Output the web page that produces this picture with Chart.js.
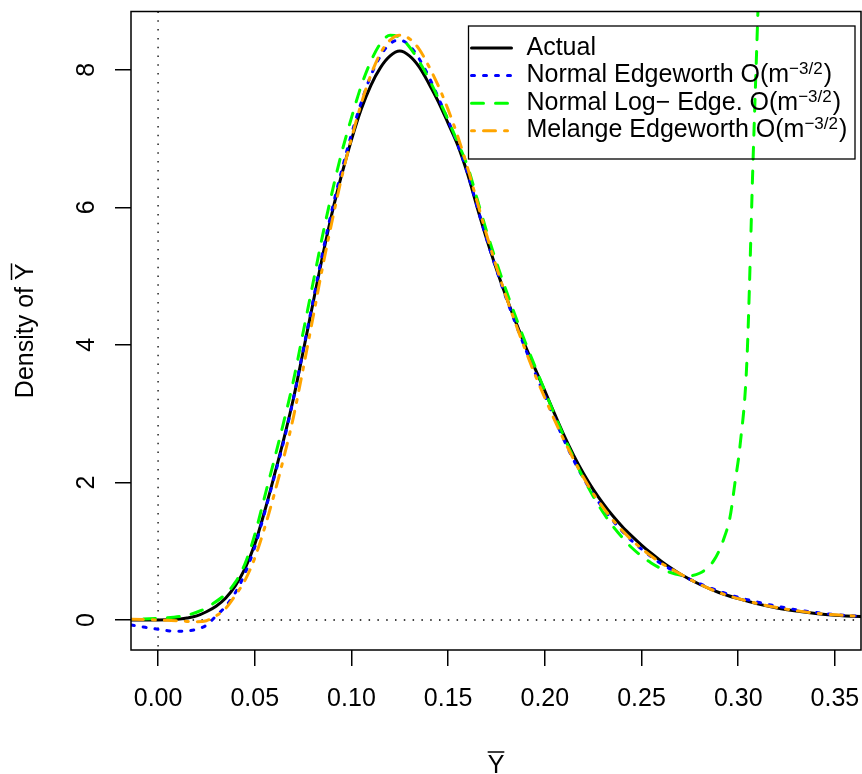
<!DOCTYPE html>
<html>
<head>
<meta charset="utf-8">
<script src="https://cdn.jsdelivr.net/npm/chart.js@4.4.0/dist/chart.umd.min.js"></script>
<style>
  body { margin: 0; background: #ffffff; }
  #chart-density { display: block; }
</style>
</head>
<body>
<canvas id="chart-density" width="862" height="774"></canvas>
<script>
// values ------------------------------------------------------
var xGrid = [-0.02, -0.014,
  0.000, 0.005, 0.010, 0.015, 0.020, 0.025, 0.030, 0.035, 0.040, 0.045,
  0.050, 0.055, 0.060, 0.065, 0.070, 0.075, 0.080, 0.085, 0.090, 0.095,
  0.100, 0.105, 0.110, 0.115, 0.120, 0.125, 0.130, 0.135, 0.140, 0.145,
  0.150, 0.155, 0.160, 0.165, 0.170, 0.175, 0.180, 0.185, 0.190, 0.195,
  0.200, 0.205, 0.210, 0.215, 0.220, 0.225, 0.230, 0.235, 0.240, 0.245,
  0.250, 0.255, 0.260, 0.265, 0.270,
  0.28, 0.29, 0.30, 0.31, 0.32, 0.33, 0.34, 0.35, 0.37]

var actualY = [0, 0,
  0.000, 0.002, 0.010, 0.030, 0.060, 0.120, 0.200, 0.320, 0.500, 0.750,
  1.10, 1.57, 2.09, 2.63, 3.22, 3.90, 4.59, 5.28, 5.92, 6.48,
  6.98, 7.42, 7.77, 8.03, 8.20, 8.27, 8.20, 8.04, 7.80, 7.53,
  7.22, 6.90, 6.49, 6.00, 5.53, 5.10, 4.70, 4.33, 3.98, 3.65,
  3.33, 3.00, 2.68, 2.39, 2.13, 1.90, 1.70, 1.52, 1.36, 1.22,
  1.09, 0.97, 0.86, 0.76, 0.67,
  0.52, 0.40, 0.31, 0.235, 0.175, 0.13, 0.095, 0.07, 0.04]

var edgeworthY = [-0.05, -0.073,
  -0.135, -0.155, -0.165, -0.160, -0.135, -0.075, 0.060, 0.200, 0.400, 0.680,
  1.06, 1.55, 2.07, 2.60, 3.22, 3.92, 4.62, 5.33, 5.97, 6.54,
  7.06, 7.52, 7.91, 8.20, 8.38, 8.43, 8.35, 8.16, 7.90, 7.59,
  7.26, 6.91, 6.50, 6.01, 5.53, 5.09, 4.68, 4.30, 3.94, 3.59,
  3.26, 2.93, 2.61, 2.32, 2.06, 1.83, 1.63, 1.45, 1.29, 1.15,
  1.03, 0.92, 0.82, 0.74, 0.66,
  0.53, 0.42, 0.33, 0.26, 0.20, 0.15, 0.11, 0.08, 0.045]

var melangeY = [0.01, 0.01,
  0.000, -0.005, -0.010, -0.020, -0.025, -0.010, 0.060, 0.170, 0.360, 0.580,
  0.90, 1.33, 1.82, 2.36, 2.95, 3.65, 4.38, 5.12, 5.80, 6.44,
  7.00, 7.50, 7.92, 8.24, 8.43, 8.50, 8.45, 8.30, 8.05, 7.76,
  7.42, 7.03, 6.58, 6.08, 5.59, 5.13, 4.70, 4.30, 3.92, 3.56,
  3.23, 2.91, 2.61, 2.33, 2.07, 1.84, 1.64, 1.46, 1.30, 1.16,
  1.04, 0.93, 0.83, 0.75, 0.67,
  0.52, 0.40, 0.31, 0.24, 0.18, 0.135, 0.10, 0.075, 0.045]

var logEdgeX = [-0.02, -0.014, -0.008, 0.000, 0.008, 0.015, 0.022, 0.028, 0.035,
  0.040, 0.045, 0.050, 0.055, 0.060, 0.065, 0.070, 0.075, 0.080, 0.085,
  0.090, 0.095, 0.100, 0.105, 0.110, 0.115, 0.120, 0.125, 0.130, 0.135,
  0.140, 0.145, 0.150, 0.155, 0.160, 0.165, 0.170, 0.175, 0.180, 0.185,
  0.190, 0.195, 0.200, 0.205, 0.210, 0.215, 0.220, 0.225, 0.230, 0.235,
  0.240, 0.245, 0.250, 0.255, 0.260, 0.265, 0.270, 0.275, 0.280, 0.285,
  0.2875, 0.290, 0.2923, 0.2958, 0.2983, 0.301, 0.3045, 0.3077, 0.3102, 0.3115]

var logEdgeY = [0.008, 0.010, 0.015, 0.025, 0.040, 0.070, 0.135, 0.230, 0.380,
  0.55, 0.82, 1.24, 1.78, 2.32, 2.88, 3.48, 4.18, 4.88, 5.58,
  6.22, 6.80, 7.30, 7.76, 8.12, 8.38, 8.50, 8.47, 8.33, 8.12,
  7.87, 7.58, 7.27, 6.94, 6.60, 6.12, 5.64, 5.20, 4.79, 4.40,
  4.03, 3.68, 3.33, 2.99, 2.66, 2.35, 2.06, 1.80, 1.57, 1.37,
  1.20, 1.05, 0.93, 0.83, 0.75, 0.69, 0.655, 0.645, 0.68, 0.78,
  0.87, 1.00, 1.16, 1.50, 1.99, 2.55, 3.77, 6.70, 8.85, 10.0]

var xTicks = [0, 0.05, 0.10, 0.15, 0.20, 0.25, 0.30, 0.35]
var yTicks = [0, 2, 4, 6, 8]
var xRange = [-0.014, 0.3635]
var yRange = [-0.436, 8.846]

var legendLabels = ['Actual', 'Normal Edgeworth O(m', 'Normal Log\u2212 Edge. O(m', 'Melange Edgeworth O(m']
var legendPower = '\u22123/2'
var seriesColors = ['#000000', '#0000ff', '#00ff00', '#ffa500']
var seriesDash = [[], [3, 9], [12, 12], [3, 9, 12, 9]]

var FONT = '"Liberation Sans", Arial, sans-serif'

function toPoints(xs, ys) {
  return xs.map(function (x, i) { return { x: x, y: ys[i] } })
}

function makeSet(label, xs, ys, idx, order) {
  return {
    label: label,
    data: toPoints(xs, ys),
    borderColor: seriesColors[idx],
    borderWidth: 3,
    borderDash: seriesDash[idx],
    borderCapStyle: 'round',
    borderJoinStyle: 'round',
    pointRadius: 0,
    fill: false,
    cubicInterpolationMode: 'monotone',
    order: order
  }
}

// keep the plot box where R put it
function fixBox(s, size) {
  if (s.isHorizontal()) s.height = size
  else s.width = size
  s.paddingTop = 0
  s.paddingBottom = 0
  s.paddingLeft = 0
  s.paddingRight = 0
}

// zero lines, frame, legend and axis titles
var extras = {
  id: 'extras',
  beforeDatasetsDraw: function (chart) {
    var ctx = chart.ctx, a = chart.chartArea
    var x0 = chart.scales.x.getPixelForValue(0)
    var y0 = chart.scales.y.getPixelForValue(0)
    ctx.save()
    ctx.strokeStyle = '#000'
    ctx.lineWidth = 1.3
    ctx.setLineDash([1.5, 7.3])
    ctx.beginPath()
    ctx.moveTo(x0, a.top); ctx.lineTo(x0, a.bottom)
    ctx.moveTo(a.left, y0); ctx.lineTo(a.right, y0)
    ctx.stroke()
    ctx.restore()
  },
  afterDatasetsDraw: function (chart) {
    var ctx = chart.ctx, a = chart.chartArea
    ctx.save()
    ctx.strokeStyle = '#000'
    ctx.lineWidth = 1.5
    ctx.strokeRect(a.left, a.top, a.right - a.left, a.bottom - a.top)

    // legend (no fill, the green curve shows through)
    var bx = a.right - 392.5, by = a.top + 14.5
    ctx.lineWidth = 1.3
    ctx.strokeRect(bx, by, 386.5, 133)
    for (var i = 0; i < legendLabels.length; i++) {
      var ly = by + 22 + i * 27.6
      ctx.beginPath()
      ctx.setLineDash(seriesDash[i])
      ctx.lineCap = 'round'
      ctx.lineWidth = 3
      ctx.strokeStyle = seriesColors[i]
      ctx.moveTo(bx + 3, ly); ctx.lineTo(bx + 43, ly)
      ctx.stroke()
      ctx.setLineDash([])
      ctx.fillStyle = '#000'
      ctx.textAlign = 'left'
      ctx.textBaseline = 'alphabetic'
      ctx.font = '25px ' + FONT
      var tx = bx + 58, base = ly + 6.5
      ctx.fillText(legendLabels[i], tx, base)
      if (i > 0) {
        tx += ctx.measureText(legendLabels[i]).width
        ctx.font = '17px ' + FONT
        ctx.fillText(legendPower, tx, base - 8)
        tx += ctx.measureText(legendPower).width + 1
        ctx.font = '25px ' + FONT
        ctx.fillText(')', tx, base)
      }
    }
    ctx.restore()
  },
  afterDraw: function (chart) {
    var ctx = chart.ctx, a = chart.chartArea
    ctx.save()
    ctx.fillStyle = '#000'
    ctx.strokeStyle = '#000'
    ctx.lineWidth = 1.5
    ctx.font = '25px ' + FONT
    ctx.textBaseline = 'alphabetic'

    // x title: Y with bar
    var cx = (a.left + a.right) / 2
    var wY = ctx.measureText('Y').width
    ctx.textAlign = 'center'
    ctx.fillText('Y', cx, 773)
    ctx.beginPath()
    ctx.moveTo(cx - wY / 2, 752); ctx.lineTo(cx + wY / 2, 752)
    ctx.stroke()

    // y title: Density of Y with bar, read bottom to top
    var title = 'Density of Y'
    var w = ctx.measureText(title).width
    ctx.translate(33, (a.top + a.bottom) / 2)
    ctx.rotate(-Math.PI / 2)
    ctx.fillText(title, 0, 0)
    ctx.beginPath()
    ctx.moveTo(w / 2 - wY, -21.5); ctx.lineTo(w / 2, -21.5)
    ctx.stroke()
    ctx.restore()
  }
}

new Chart(document.getElementById('chart-density'), {
  type: 'line',
  data: {
    datasets: [
      makeSet('Actual', xGrid, actualY, 0, 4),
      makeSet('Normal Edgeworth', xGrid, edgeworthY, 1, 3),
      makeSet('Normal Log- Edge.', logEdgeX, logEdgeY, 2, 2),
      makeSet('Melange Edgeworth', xGrid, melangeY, 3, 1)
    ]
  },
  options: {
    responsive: false,
    animation: false,
    events: [],
    devicePixelRatio: 1,
    layout: { padding: { top: 11.5, right: 1, left: 0, bottom: 0 } },
    plugins: {
      legend: { display: false },
      tooltip: { enabled: false }
    },
    scales: {
      x: {
        type: 'linear',
        min: xRange[0],
        max: xRange[1],
        afterBuildTicks: function (s) { s.ticks = xTicks.map(function (v) { return { value: v } }) },
        afterFit: function (s) { fixBox(s, 124) },
        border: { display: false },
        grid: { drawOnChartArea: false, drawTicks: true, tickLength: 16, color: '#000', lineWidth: 1.5 },
        ticks: {
          autoSkip: false, maxRotation: 0, padding: 18, color: '#000',
          font: { family: FONT, size: 25 },
          callback: function (v) { return v.toFixed(2) }
        }
      },
      y: {
        type: 'linear',
        min: yRange[0],
        max: yRange[1],
        afterBuildTicks: function (s) { s.ticks = yTicks.map(function (v) { return { value: v } }) },
        afterFit: function (s) { fixBox(s, 131) },
        border: { display: false },
        grid: { drawOnChartArea: false, drawTicks: true, tickLength: 16, color: '#000', lineWidth: 1.5 },
        ticks: {
          autoSkip: false, minRotation: 90, maxRotation: 90, crossAlign: 'center', padding: 21, color: '#000',
          font: { family: FONT, size: 25 },
          callback: function (v) { return String(v) }
        }
      }
    }
  },
  plugins: [extras]
})
</script>
</body>
</html>
